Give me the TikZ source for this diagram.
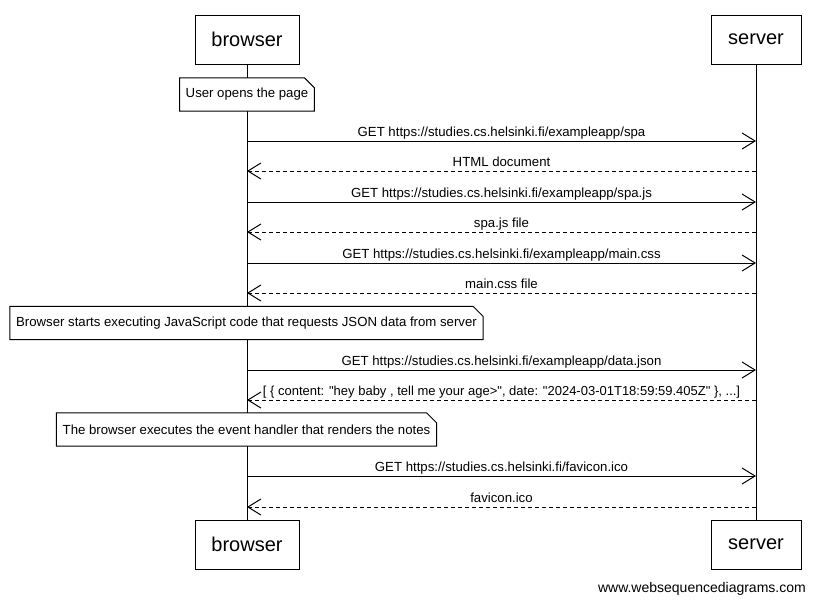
\documentclass[tikz,border=0pt]{standalone}
\usepackage{fontspec}
\setmainfont{Liberation Sans}
\usetikzlibrary{arrows.meta}
\begin{document}
\begin{tikzpicture}[x=1pt,y=-1pt,
  actor/.style={draw, fill=white, line width=1pt, minimum height=49pt, font=\fontsize{20}{24}\selectfont, inner sep=0pt},
  msg/.style={line width=1pt, -{Straight Barb[length=13pt,width=16pt]}},
  reply/.style={msg, dash pattern=on 4pt off 3pt},
  lbl/.style={font=\fontsize{13.2}{15}\selectfont, anchor=base, inner sep=0pt, yshift=5pt},
  notetext/.style={font=\fontsize{13.2}{15}\selectfont, minimum height=33pt, inner xsep=6pt, inner ysep=0pt},
  notebox/.style={draw, fill=white, line width=1pt},
  life/.style={line width=1pt}]
\useasboundingbox[fill=white] (0,0) rectangle (816,603);
% actors
\node[actor, minimum width=104pt] (bt) at (247,39.5) {browser};
\node[actor, minimum width=90pt] (st) at (756,39.5) {server};
\node[actor, minimum width=104pt] (bb) at (247,544.5) {browser};
\node[actor, minimum width=90pt] (sb) at (756,544.5) {server};
\draw[life] (bt) -- (bb);
\draw[life] (st) -- (sb);
% notes
\newcommand{\drawnote}[1]{%
  \filldraw[notebox] (#1.north west) -- ([xshift=-10pt]#1.north east) -- ([yshift=-10pt]#1.north east) -- (#1.south east) -- (#1.south west) -- cycle;}
\node[notetext] (n1) at (247,94.5) {User opens the page};
\drawnote{n1}
\node[notetext] at (n1) {User opens the page};
\node[notetext] (n2) at (246.5,323) {Browser starts executing JavaScript code that requests JSON data from server};
\drawnote{n2}
\node[notetext] at (n2) {Browser starts executing JavaScript code that requests JSON data from server};
\node[notetext] (n3) at (246.5,429.5) {The browser executes the event handler that renders the notes};
\drawnote{n3}
\node[notetext] at (n3) {The browser executes the event handler that renders the notes};
% message anchors
\foreach \i/\y in {1/141,2/171,3/202,4/232,5/263,6/293,7/370,8/400,9/476,10/507} {
  \coordinate (b\i) at (bt.south |- 0,\y);
  \coordinate (s\i) at (st.south |- 0,\y);
}
\draw[msg] (b1) -- node[lbl] {GET https://studies.cs.helsinki.fi/exampleapp/spa} (s1);
\draw[reply] (s2) -- node[lbl] {HTML document} (b2);
\draw[msg] (b3) -- node[lbl] {GET https://studies.cs.helsinki.fi/exampleapp/spa.js} (s3);
\draw[reply] (s4) -- node[lbl] {spa.js file} (b4);
\draw[msg] (b5) -- node[lbl] {GET https://studies.cs.helsinki.fi/exampleapp/main.css} (s5);
\draw[reply] (s6) -- node[lbl] {main.css file} (b6);
\draw[msg] (b7) -- node[lbl] {GET https://studies.cs.helsinki.fi/exampleapp/data.json} (s7);
\draw[reply] (s8) -- node[lbl, font=\fontsize{13}{15}\selectfont] {[ \{ content: \textquotedbl hey baby , tell me your age>\textquotedbl, date: \textquotedbl 2024-03-01T18:59:59.405Z\textquotedbl\ \}, ...]} (b8);
\draw[msg] (b9) -- node[lbl] {GET https://studies.cs.helsinki.fi/favicon.ico} (s9);
\draw[reply] (s10) -- node[lbl] {favicon.ico} (b10);
\node[font=\fontsize{14}{16}\selectfont, anchor=base east, inner sep=0pt] (wm) at (806,592) {www.websequencediagrams.com};
\end{tikzpicture}
\end{document}
